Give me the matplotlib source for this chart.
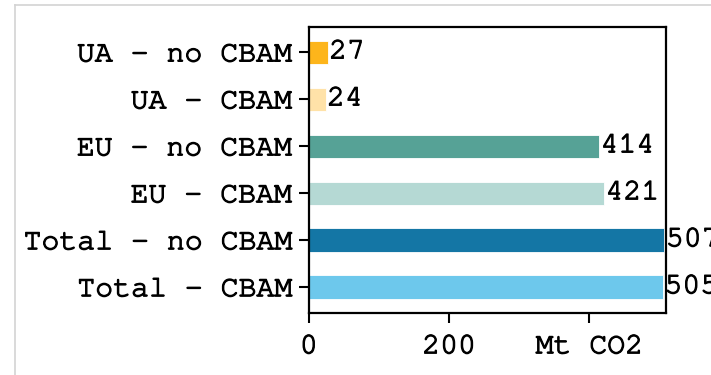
import matplotlib.pyplot as plt
import matplotlib.patheffects as pe
from matplotlib.lines import Line2D
from matplotlib import font_manager

# prefer a Courier-style serif mono when one is installed
installed = {f.name for f in font_manager.fontManager.ttflist}
mono = [n for n in ['Nimbus Mono PS', 'FreeMono', 'Courier New', 'Courier']
        if n in installed] + ['Liberation Mono', 'DejaVu Sans Mono']
plt.rcParams['font.family'] = mono

labels = ['UA - no CBAM', 'UA - CBAM', 'EU - no CBAM', 'EU - CBAM',
          'Total - no CBAM', 'Total - CBAM']
emissions = [27, 24, 414, 421, 507, 505]
colors = ['#fdb51b', '#ffe2a8', '#56a296', '#b5d9d4', '#1476a5', '#6dc8ec']
xticks = [0, 200, 400]
xticklabels = ['0', '200', 'Mt CO2']

fs = 21.5
# thin outline so the light mono face reads a bit heavier
thicken = [pe.withStroke(linewidth=0.9, foreground='black')]

fig = plt.figure(figsize=(7.11, 3.75), dpi=100)
ax = fig.add_axes([0.4342, 0.1653, 0.5032, 0.7627])

ypos = list(range(len(labels)))
bars = ax.barh(ypos, emissions, height=0.5, color=colors,
               edgecolor='white', linewidth=0.6)
vals = ax.bar_label(bars, labels=[str(v) for v in emissions], padding=1,
                    fontsize=fs, clip_on=False)

ax.set_yticks(ypos)
ax.set_yticklabels(labels)
ax.set_xticks(xticks)
ax.set_xticklabels(xticklabels)
ax.set_xlim(0, 510)
ax.set_ylim(5.55, -0.54)
ax.tick_params(labelsize=fs, length=7, width=1.5, pad=5)
ax.tick_params(axis='x', pad=9)
for s in ax.spines.values():
    s.set_linewidth(1.6)

for t in list(vals) + ax.get_xticklabels() + ax.get_yticklabels():
    t.set_path_effects(thicken)

# frame of the surrounding panel
fig.add_artist(Line2D([15 / 711, 1], [1 - 4.5 / 375, 1 - 4.5 / 375],
                      color='#d3d3d3', lw=1.2))
fig.add_artist(Line2D([15 / 711, 15 / 711], [0, 1 - 4.5 / 375],
                      color='#d3d3d3', lw=1.2))

fig.savefig('out.png', dpi=100)
